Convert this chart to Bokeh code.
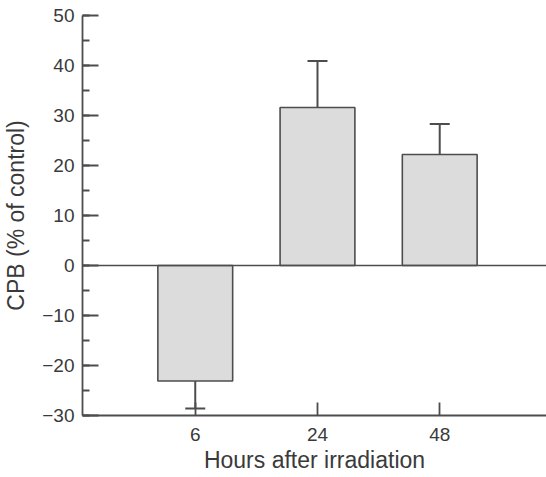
from bokeh.plotting import figure
from bokeh.models import (Range1d, FixedTicker, SingleIntervalTicker, Span,
                          Whisker, ColumnDataSource)
from bokeh.embed import file_html
from bokeh.resources import INLINE

# Collagenous protein biosynthesis after irradiation
hours = ["6", "24", "48"]
cpb_mean = [-23.1, 31.6, 22.2]
cpb_err = [5.5, 9.3, 6.1]
y_ticks = [-30, -20, -10, 0, 10, 20, 30, 40, 50]
y_tick_labels = ["\u221230", "\u221220", "\u221210", "0", "10", "20", "30", "40", "50"]

FONT = "Liberation Sans"
INK = "#3a3a3a"
LINE = "#4d4d4d"

pos = list(range(len(hours)))
err_tip = [m + e if m >= 0 else m - e for m, e in zip(cpb_mean, cpb_err)]

src = ColumnDataSource(dict(x=pos, top=cpb_mean, tip=err_tip, start=cpb_mean))

p = figure(width=546, height=477, output_backend="svg", toolbar_location=None,
           x_range=Range1d(-0.9224, 2.8735), y_range=Range1d(-30, 50),
           min_border_left=81, min_border_right=0, min_border_top=15,
           min_border_bottom=62)
p.outline_line_color = None
p.xgrid.visible = False
p.ygrid.visible = False
p.background_fill_color = "white"
p.border_fill_color = "white"

p.vbar(x="x", top="top", bottom=0, width=0.612, source=src,
       fill_color="#dcdcdc", line_color=LINE, line_width=1.6)

whisk = Whisker(base="x", lower="start", upper="tip", source=src,
                dimension="height", line_color=LINE, line_width=2)
whisk.upper_head.size = 20
whisk.upper_head.line_color = LINE
whisk.upper_head.line_width = 2
whisk.lower_head = None
p.add_layout(whisk)

p.add_layout(Span(location=0, dimension="width", line_color=LINE, line_width=1.6))

# x axis
xa = p.xaxis[0]
xa.ticker = FixedTicker(ticks=pos)
xa.major_label_overrides = {i: h for i, h in enumerate(hours)}
xa.major_tick_in = 13
xa.major_tick_out = 0
xa.minor_tick_line_color = None
xa.axis_line_color = LINE
xa.axis_line_width = 1.8
xa.major_tick_line_color = LINE
xa.major_tick_line_width = 1.8
xa.major_label_standoff = 12
xa.major_label_text_font = FONT
xa.major_label_text_font_size = "19px"
xa.major_label_text_color = INK
xa.axis_label = "Hours after irradiation"
xa.axis_label_standoff = 3
xa.axis_label_text_font = FONT
xa.axis_label_text_font_size = "23px"
xa.axis_label_text_font_style = "normal"
xa.axis_label_text_color = INK

# y axis
ya = p.yaxis[0]
ya.ticker = SingleIntervalTicker(interval=10, num_minor_ticks=2)
ya.major_label_overrides = {t: l for t, l in zip(y_ticks, y_tick_labels)}
ya.major_tick_in = 16
ya.major_tick_out = 0
ya.minor_tick_in = 7
ya.minor_tick_out = 0
ya.axis_line_color = LINE
ya.axis_line_width = 1.8
ya.major_tick_line_color = LINE
ya.major_tick_line_width = 1.8
ya.minor_tick_line_color = LINE
ya.minor_tick_line_width = 1.8
ya.major_label_standoff = 8
ya.major_label_text_font = FONT
ya.major_label_text_font_size = "19px"
ya.major_label_text_color = INK
ya.axis_label = "CPB (% of control)"
ya.axis_label_standoff = 10
ya.axis_label_text_font = FONT
ya.axis_label_text_font_size = "23px"
ya.axis_label_text_font_style = "normal"
ya.axis_label_text_color = INK

open("out.html", "w").write(file_html(p, INLINE))
